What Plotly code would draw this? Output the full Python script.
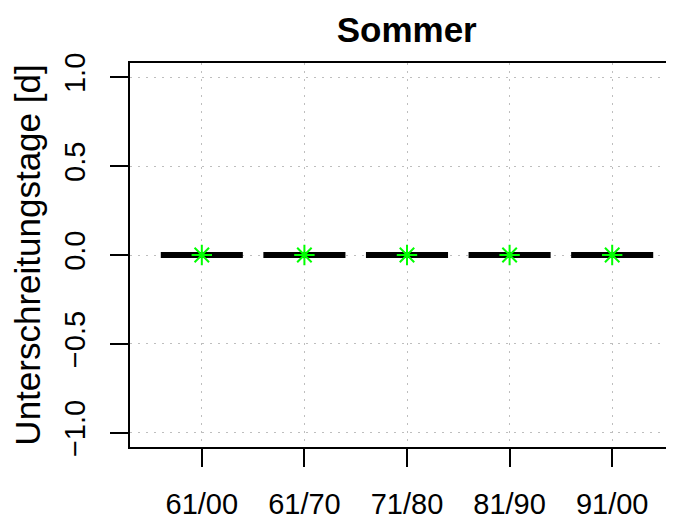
import plotly.graph_objects as go

# Zeitraeume und Unterschreitungstage (Sommer)
periods = ["61/00", "61/70", "71/80", "81/90", "91/00"]
values = [0, 0, 0, 0, 0]
markers = [0, 0, 0, 0, 0]
y_ticks = [-1.0, -0.5, 0.0, 0.5, 1.0]
y_labels = ["\u22121.0", "\u22120.5", "0.0", "0.5", "1.0"]

pos = list(range(1, len(periods) + 1))
half = 0.4

# horizontal bars for each period
seg_x, seg_y = [], []
for p, v in zip(pos, values):
    seg_x += [p - half, p + half, None]
    seg_y += [v, v, None]

fig = go.Figure()
fig.add_trace(go.Scatter(
    x=seg_x, y=seg_y, mode="lines",
    line=dict(color="black", width=6),
    hoverinfo="skip", showlegend=False))
fig.add_trace(go.Scatter(
    x=pos, y=markers, mode="markers",
    marker=dict(symbol="asterisk-open", size=17, color="#00FF00",
                line=dict(color="#00FF00", width=2)),
    showlegend=False))

font = "Liberation Sans, Arial, Helvetica, sans-serif"
grid = dict(showgrid=True, gridcolor="#BEBEBE", gridwidth=1, griddash="1.5px,6.5px")

# page has an 8px body margin, so margins are shifted by that
fig.update_layout(
    width=676, height=513,
    paper_bgcolor="white", plot_bgcolor="white",
    margin=dict(l=122, r=0, t=55, b=74, pad=0),
    font=dict(family=font, size=29, color="black"),
    title=dict(text="<b>Sommer</b>", font=dict(size=35, color="black"),
               x=0.5898, xref="container", xanchor="center",
               y=0.957, yref="container", yanchor="middle"),
    xaxis=dict(range=[0.3, 5.7], tickvals=pos, ticktext=periods,
               showline=True, linecolor="black", linewidth=2, mirror=True,
               ticks="outside", ticklen=18, tickwidth=2, tickcolor="black",
               zeroline=False, ticklabelstandoff=12, automargin=False, **grid),
    yaxis=dict(range=[-1.08, 1.08], tickvals=y_ticks, ticktext=y_labels,
               tickangle=-90,
               showline=True, linecolor="black", linewidth=2,
               ticks="outside", ticklen=18, tickwidth=2, tickcolor="black",
               zeroline=False, ticklabelstandoff=13, automargin=False,
               title=dict(text="Unterschreitungstage [d]", standoff=14),
               **grid),
)

fig.write_html("out.html")
